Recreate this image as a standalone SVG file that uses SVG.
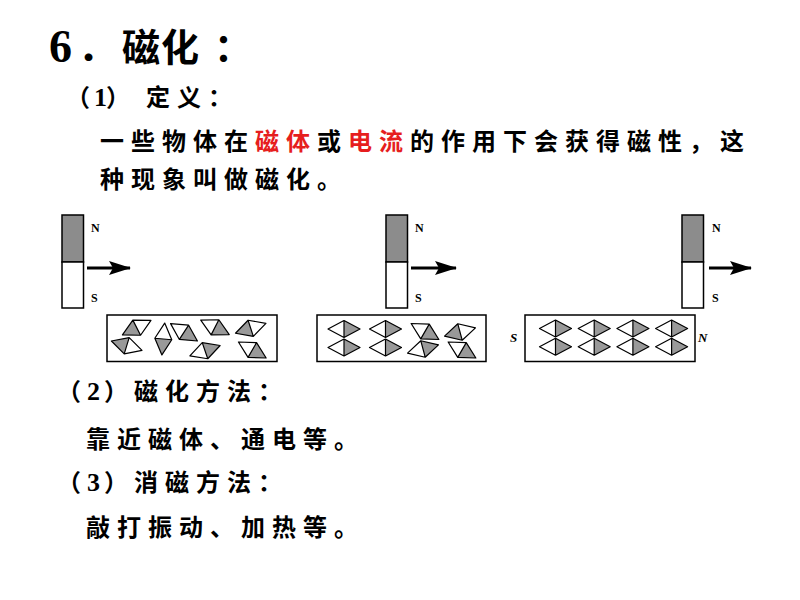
<svg xmlns="http://www.w3.org/2000/svg" xmlns:xlink="http://www.w3.org/1999/xlink" width="800" height="600" viewBox="0 0 800 600">
<style>
.zh{font-family:"Noto Sans CJK SC","Noto Sans CJK JP",sans-serif;font-weight:bold;fill:#000}
.body{font-size:24px;letter-spacing:7px}
.par{font-size:24px;letter-spacing:0}
.red{fill:#e61e1e}
.num{font-family:"Liberation Serif",serif;font-weight:bold}
.dig{font-family:"Liberation Serif",serif;font-weight:bold;font-size:26px}
.pole{font-family:"Liberation Serif",serif;font-weight:bold;font-size:12px;fill:#000}
.ipole{font-family:"Liberation Serif",serif;font-weight:bold;font-style:italic;font-size:13px;fill:#000}
.mag{stroke:#000;stroke-width:1.5}
.box{fill:#fff;stroke:#000;stroke-width:1.5}
.arr{stroke:#000;stroke-width:3;fill:none}
</style>
<defs>
<marker id="head" markerUnits="userSpaceOnUse" markerWidth="24" markerHeight="16" refX="21" refY="8" orient="auto">
<path d="M0,1 L22,8 L0,15 L4,8 Z" fill="#000"/>
</marker>
<g id="dm">
<path d="M-16,0 L0,-8.5 L0,8.5 Z" fill="#fff"/>
<path d="M0,-8.5 L16,0 L0,8.5 Z" fill="#999"/>
<path d="M-16,0 L0,-8.5 L16,0 L0,8.5 Z M0,-8.5 L0,8.5" fill="none" stroke="#000" stroke-width="1.2" stroke-linejoin="round"/>
</g>
</defs>
<rect width="800" height="600" fill="#fff"/>

<g id="title">
<text x="49" y="62" class="num" font-size="46">6</text>
<text x="78" y="61" class="zh" font-size="38">．</text>
<text x="122 161 214" y="61" class="zh" font-size="38">磁化：</text>
</g>

<g id="definition">
<text x="66 94 106" y="106" class="zh par">（<tspan class="dig">1</tspan>）</text>
<text x="146" y="106" class="zh body">定义：</text>
<text x="100" y="150" class="zh body">一些物体在<tspan class="red">磁体</tspan>或<tspan class="red">电流</tspan>的作用下会获得磁性，这</text>
<text x="100" y="188" class="zh body">种现象叫做磁化。</text>
</g>

<g id="magnet-1">
<rect x="62" y="215" width="21.5" height="47" fill="#8c8c8c" class="mag"/>
<rect x="62" y="262" width="21.5" height="46" fill="#fff" class="mag"/>
<text x="91" y="232" class="pole">N</text>
<text x="91" y="302" class="pole">S</text>
</g>
<g id="magnet-2">
<rect x="386" y="215" width="21.5" height="47" fill="#8c8c8c" class="mag"/>
<rect x="386" y="262" width="21.5" height="46" fill="#fff" class="mag"/>
<text x="415" y="232" class="pole">N</text>
<text x="415" y="302" class="pole">S</text>
</g>
<g id="magnet-3">
<rect x="682" y="215" width="21.5" height="47" fill="#8c8c8c" class="mag"/>
<rect x="682" y="262" width="21.5" height="46" fill="#fff" class="mag"/>
<text x="712" y="232" class="pole">N</text>
<text x="712" y="302" class="pole">S</text>
</g>

<g id="arrows">
<line x1="87" y1="268" x2="130" y2="268" class="arr" marker-end="url(#head)"/>
<line x1="411" y1="268" x2="456" y2="268" class="arr" marker-end="url(#head)"/>
<line x1="709" y1="268" x2="751" y2="268" class="arr" marker-end="url(#head)"/>
</g>

<g id="bar-1">
<rect x="107" y="315" width="170" height="46.5" class="box"/>
<use xlink:href="#dm" transform="translate(136.7,327.7) rotate(153)"/>
<use xlink:href="#dm" transform="translate(126.7,345.7) rotate(197)"/>
<use xlink:href="#dm" transform="translate(163.3,339) rotate(95)"/>
<use xlink:href="#dm" transform="translate(184,332.3) rotate(33)"/>
<use xlink:href="#dm" transform="translate(215,327.3) rotate(27)"/>
<use xlink:href="#dm" transform="translate(205,350.7) rotate(-19)"/>
<use xlink:href="#dm" transform="translate(250.7,328.3) rotate(162)"/>
<use xlink:href="#dm" transform="translate(252.3,350) rotate(30)"/>
</g>

<g id="bar-2">
<rect x="317" y="315" width="169" height="46.5" class="box"/>
<use xlink:href="#dm" transform="translate(344,329)"/>
<use xlink:href="#dm" transform="translate(385.5,329)"/>
<use xlink:href="#dm" transform="translate(425,331.5) rotate(30)"/>
<use xlink:href="#dm" transform="translate(460,332) rotate(165)"/>
<use xlink:href="#dm" transform="translate(344,347.5)"/>
<use xlink:href="#dm" transform="translate(385.5,347.5)"/>
<use xlink:href="#dm" transform="translate(423,349) rotate(-15)"/>
<use xlink:href="#dm" transform="translate(462,350) rotate(30)"/>
</g>

<g id="bar-3">
<rect x="525" y="315" width="170" height="46.5" class="box"/>
<use xlink:href="#dm" transform="translate(555.5,328.5)"/>
<use xlink:href="#dm" transform="translate(594.2,328.5)"/>
<use xlink:href="#dm" transform="translate(632.9,328.5)"/>
<use xlink:href="#dm" transform="translate(671.6,328.5)"/>
<use xlink:href="#dm" transform="translate(555.5,346.7)"/>
<use xlink:href="#dm" transform="translate(594.2,346.7)"/>
<use xlink:href="#dm" transform="translate(632.9,346.7)"/>
<use xlink:href="#dm" transform="translate(671.6,346.7)"/>
<text x="510" y="342" class="ipole">S</text>
<text x="698" y="342" class="ipole">N</text>
</g>

<g id="methods">
<text x="57 87 104" y="400" class="zh par">（<tspan class="dig">2</tspan>）</text>
<text x="134" y="400" class="zh body">磁化方法：</text>
<text x="86" y="448" class="zh body">靠近磁体、通电等。</text>
<text x="57 87 104" y="491" class="zh par">（<tspan class="dig">3</tspan>）</text>
<text x="134" y="491" class="zh body">消磁方法：</text>
<text x="86" y="536" class="zh body">敲打振动、加热等。</text>
</g>
</svg>
